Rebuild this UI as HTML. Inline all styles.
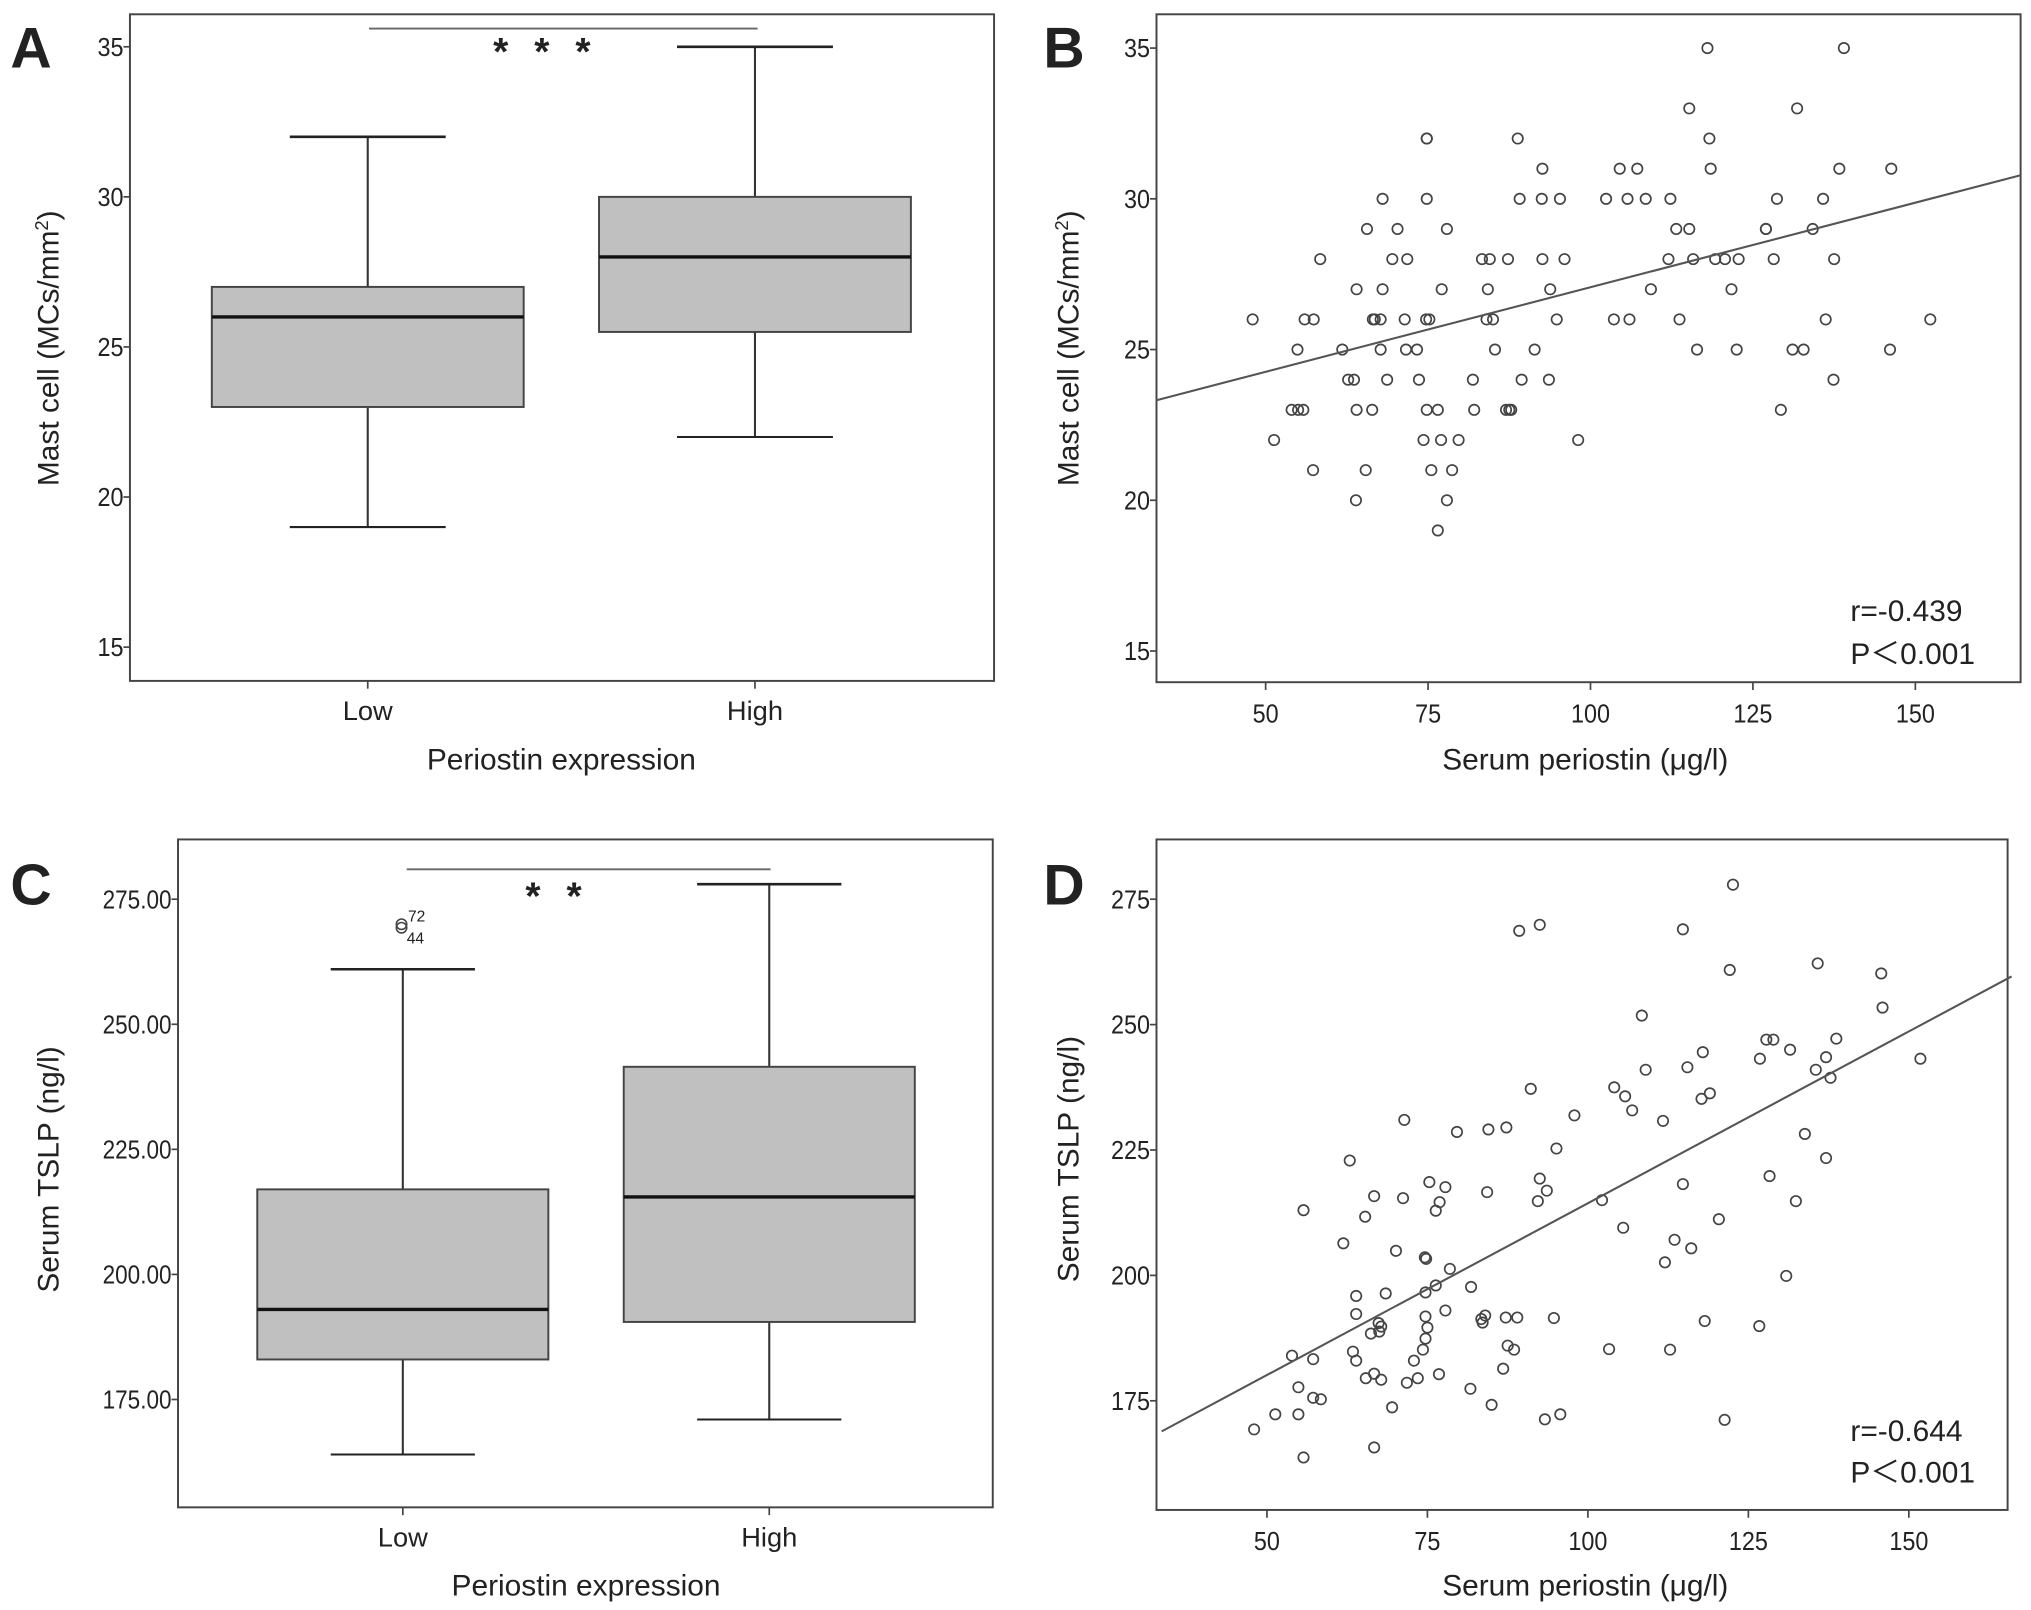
<!DOCTYPE html>
<html><head><meta charset="utf-8">
<style>
html,body{margin:0;padding:0;background:#fff;}
svg{display:block;}
text{font-family:"Liberation Sans",sans-serif;fill:#222;}
</style></head>
<body>
<svg id="fig" width="2031" height="1610" viewBox="0 0 1563 1239" preserveAspectRatio="none" xmlns="http://www.w3.org/2000/svg"></svg>
<script>
// ---- Panel A data (box plot) ----
const catsA = ["Low", "High"];
const boxA_min = [19, 22];
const boxA_q1 = [23, 25.5];
const boxA_med = [26, 28];
const boxA_q3 = [27, 30];
const boxA_max = [32, 35];
const ticksA = [15, 20, 25, 30, 35];

// ---- Panel B data (scatter) ----
const bX = [118,139, 115.2,131.8, 74.8,74.8,88.8,118.3,
 92.6,104.5,107.2,118.5,138.3,146.3,
 68,74.8,89.1,92.5,95.3,102.4,105.7,108.5,112.3,128.7,135.8,
 65.6,70.3,77.9,113.2,115.2,127,127,134.2,
 58.4,69.5,71.8,83.3,84.5,87.3,92.6,96,112,115.8,119.2,120.7,122.8,128.2,137.5,
 64,68,77.1,84.2,93.8,109.3,121.7,
 48,56,57.4,66.5,66.8,67.7,71.4,74.7,75.2,84,85,94.8,103.6,106,113.7,136.2,152.3,
 54.9,61.8,67.7,71.6,73.3,85.3,91.4,116.4,122.5,131.1,132.8,146.1,
 62.7,63.6,68.7,73.6,81.9,89.4,93.6,137.4,
 54,55,55.8,64,66.4,74.8,76.5,82.1,87,87.5,87.8,129.3,
 51.3,74.3,77,79.7,98.1,
 57.3,65.4,75.5,78.7,
 63.9,77.9,
 76.5];
const bY = [35,35, 33,33, 32,32,32,32,
 31,31,31,31,31,31,
 30,30,30,30,30,30,30,30,30,30,30,
 29,29,29,29,29,29,29,29,
 28,28,28,28,28,28,28,28,28,28,28,28,28,28,28,
 27,27,27,27,27,27,27,
 26,26,26,26,26,26,26,26,26,26,26,26,26,26,26,26,26,
 25,25,25,25,25,25,25,25,25,25,25,25,
 24,24,24,24,24,24,24,24,
 23,23,23,23,23,23,23,23,23,23,23,23,
 22,22,22,22,22,
 21,21,21,21,
 20,20,
 19];
const fitB = [[33.2, 23.32], [166.2, 30.78]];
const xTicksB = [50, 75, 100, 125, 150];
const yTicksB = [15, 20, 25, 30, 35];

// ---- Panel C data (box plot) ----
const catsC = ["Low", "High"];
const boxC_min = [164, 171];
const boxC_q1 = [183, 190.5];
const boxC_med = [193, 215.5];
const boxC_q3 = [217, 241.5];
const boxC_max = [261, 278];
const outC = [270, 269.3];
const outLabelsC = ["72", "44"];
const ticksC = [175, 200, 225, 250, 275];

// ---- Panel D data (scatter) ----
const dX = [122.6,89.3,92.5,114.8,122.1,135.8,145.7,145.9,108.4,127.8,128.9,138.7,131.5,117.9,126.8,137.1,151.8,115.5,109.0,135.5,137.8,91.1,104.1,105.8,117.7,119.0,106.9,97.9,71.4,111.7,84.5,87.3,79.6,95.1,133.8,62.9,137.1,128.3,75.3,77.8,92.5,114.8,93.6,84.3,66.7,71.2,55.7,92.2,102.2,132.4,76.9,76.3,65.3,120.4,105.5,113.5,61.9,70.1,116.1,74.6,74.8,78.5,112.0,130.9,81.8,76.3,74.7,63.9,68.5,77.8,63.9,67.4,67.8,67.5,66.2,74.7,75.0,74.7,74.3,83.4,83.6,84.0,87.2,89.0,94.7,118.2,126.7,63.4,63.9,53.9,57.2,72.9,87.5,88.5,103.3,112.8,65.4,66.7,67.8,73.5,71.8,76.8,86.8,81.7,54.9,57.2,58.4,85.0,69.5,51.3,54.9,95.7,93.3,121.3,48.0,66.7,55.7];
const dY = [277.9,268.7,269.9,269.0,260.9,262.2,260.2,253.4,251.8,247.0,247.0,247.2,245.0,244.5,243.2,243.5,243.2,241.5,241.0,241.0,239.4,237.2,237.5,235.7,235.2,236.3,232.9,231.9,231.0,230.8,229.1,229.5,228.6,225.3,228.2,222.9,223.4,219.8,218.6,217.6,219.3,218.2,216.9,216.6,215.8,215.4,213.0,214.8,215.0,214.8,214.6,212.9,211.7,211.2,209.5,207.1,206.4,204.9,205.4,203.6,203.3,201.3,202.6,199.9,197.7,198.0,196.6,195.9,196.4,193.0,192.3,190.5,189.8,188.8,188.4,191.8,189.6,187.4,185.2,191.3,190.6,192.0,191.6,191.6,191.5,190.9,189.9,184.8,183.0,184.0,183.3,183.0,186.0,185.2,185.3,185.2,179.5,180.4,179.2,179.5,178.6,180.3,181.4,177.4,177.7,175.6,175.3,174.2,173.7,172.3,172.3,172.3,171.3,171.2,169.3,165.7,163.7];
const fitD = [[33.6, 168.9], [166.0, 259.6]];
const xTicksD = [50, 75, 100, 125, 150];
const yTicksD = [175, 200, 225, 250, 275];

const NS = "http://www.w3.org/2000/svg";
const svg = document.getElementById('fig');
function mk(tag, attrs, parent, txt) {
  const e = document.createElementNS(NS, tag);
  for (const k in attrs) e.setAttribute(k, attrs[k]);
  if (txt !== undefined) e.textContent = txt;
  (parent || svg).appendChild(e);
  return e;
}
function lin(d0, d1, p0, p1) { return v => p0 + (v - d0) * (p1 - p0) / (d1 - d0); }

function frame(g, x0, y0, x1, y1) {
  const r = mk('rect', {x:x0, y:y0, width:x1-x0, height:y1-y0, fill:'none', stroke:'#444', 'stroke-width':1.5}, g);
  
  
}
function yAxis(g, ticks, ys, x0, fmt) {
  ticks.forEach(t => {
    const l = mk('line', {x1:x0-5, x2:x0, y1:ys(t), y2:ys(t), stroke:'#444', 'stroke-width':1.3}, g);
    
    
    const s = fmt ? t.toFixed(2) : String(t);
    const w = fmt ? 53 : s.length * 10;
    const tx = mk('text', {x:x0-5, y:ys(t)+7, 'text-anchor':'end', 'font-size':20, textLength:w, lengthAdjust:'spacingAndGlyphs'}, g, s);
    
    
  });
}
function xAxisNum(g, ticks, xs, y1) {
  ticks.forEach(t => {
    const l = mk('line', {x1:xs(t), x2:xs(t), y1:y1, y2:y1+6, stroke:'#444', 'stroke-width':1.3}, g);
    
    
    const s = String(t);
    const tx = mk('text', {x:xs(t), y:y1+31, 'text-anchor':'middle', 'font-size':20, textLength:s.length*10, lengthAdjust:'spacingAndGlyphs'}, g, s);
    
    
  });
}
function titles(g, letter, lx, ly, ytitle, ytx, yty, xtitle, xtx, xty) {
  const L = mk('text', {x:lx, y:ly, 'font-size':44, 'font-weight':'bold', fill:'#000'}, g, letter);
  
  
  const yt = mk('text', {x:0, y:0, transform:`translate(${ytx},${yty}) rotate(-90)`, 'text-anchor':'middle', 'font-size':23}, g);
  
  
  if (Array.isArray(ytitle)) {
    mk('tspan', {}, yt, ytitle[0]);
    mk('tspan', {dy:-8, 'font-size':14}, yt, ytitle[1]);
    mk('tspan', {dy:8}, yt, ytitle[2]);
  } else yt.textContent = ytitle;
  const xt = mk('text', {x:xtx, y:xty, 'text-anchor':'middle', 'font-size':23}, g, xtitle);
  
  
}

function boxPanel(name, F, cats, mn, q1, md, q3, mx, ticks, ys, catX, boxW, capW, fmt) {
  const g = mk('g', {});
  
  
  cats.forEach((c, i) => {
    const cx = catX[i];
    const bg = mk('g', {}, g);
    
    
    mk('line', {x1:cx, x2:cx, y1:ys(mx[i]), y2:ys(q3[i]), stroke:'#333', 'stroke-width':1.6}, bg);
    mk('line', {x1:cx, x2:cx, y1:ys(q1[i]), y2:ys(mn[i]), stroke:'#333', 'stroke-width':1.6}, bg);
    mk('line', {x1:cx-capW/2, x2:cx+capW/2, y1:ys(mx[i]), y2:ys(mx[i]), stroke:'#222', 'stroke-width':2}, bg);
    mk('line', {x1:cx-capW/2, x2:cx+capW/2, y1:ys(mn[i]), y2:ys(mn[i]), stroke:'#222', 'stroke-width':1.6}, bg);
    mk('rect', {x:cx-boxW/2, y:ys(q3[i]), width:boxW, height:ys(q1[i])-ys(q3[i]), fill:'#c0c0c0', stroke:'#444', 'stroke-width':1.5}, bg);
    mk('line', {x1:cx-boxW/2, x2:cx+boxW/2, y1:ys(md[i]), y2:ys(md[i]), stroke:'#111', 'stroke-width':2.6}, bg);
    const tk = mk('line', {x1:cx, x2:cx, y1:F[3], y2:F[3]+6, stroke:'#444', 'stroke-width':1.3}, g);
    
    
    const tl = mk('text', {x:cx, y:F[3]+30, 'text-anchor':'middle', 'font-size':21}, g, c);
    
    
  });
  frame(g, F[0], F[1], F[2], F[3]);
  yAxis(g, ticks, ys, F[0], fmt);
  return g;
}

function scatterPanel(name, F, xs, ys, X, Y, fit, xt, yt) {
  const g = mk('g', {});
  
  
  frame(g, F[0], F[1], F[2], F[3]);
  yAxis(g, yt, ys, F[0], false);
  xAxisNum(g, xt, xs, F[3]);
  X.forEach((x, i) => {
    const c = mk('circle', {cx:xs(x), cy:ys(Y[i]), r:4, fill:'none', stroke:'#444', 'stroke-width':1.3}, g);
    
    
  });
  const l = mk('line', {x1:xs(fit[0][0]), y1:ys(fit[0][1]), x2:xs(fit[1][0]), y2:ys(fit[1][1]), stroke:'#555', 'stroke-width':1.6}, g);
  
  
  return g;
}

// Panel A
const FA = [100, 11, 765, 524];
const ysA = lin(35, 15, 36, 498);
const gA = boxPanel('panel-a', FA, catsA, boxA_min, boxA_q1, boxA_med, boxA_q3, boxA_max, ticksA, ysA, [283, 581], 240, 120, false);
titles(gA, 'A', 8, 52, ['Mast cell (MCs/mm', '2', ')'], 45, 268, 'Periostin expression', 432, 592);
const sA = mk('line', {x1:284, x2:583, y1:22, y2:22, stroke:'#666', 'stroke-width':1.5}, gA);


const stA = mk('text', {x:427, y:50, 'text-anchor':'middle', 'font-size':30, 'font-weight':'bold', fill:'#000', 'letter-spacing':'20'}, gA, '***');



// Panel B
const FB = [890, 11, 1555, 525];
const xsB = lin(50, 150, 974, 1474);
const ysB = lin(35, 15, 37, 501);
const gB = scatterPanel('panel-b', FB, xsB, ysB, bX, bY, fitB, xTicksB, yTicksB);
titles(gB, 'B', 803, 52, ['Mast cell (MCs/mm', '2', ')'], 830, 268, 'Serum periostin (μg/l)', 1220, 592);
const rB = mk('text', {x:1424, y:478, 'font-size':23}, gB, 'r=-0.439');


const pB = mk('text', {x:1424, y:511, 'font-size':23}, gB, 'P＜0.001');



// Panel C
const FC = [137, 646, 764, 1160];
const ysC = lin(275, 175, 692, 1077);
const gC = boxPanel('panel-c', FC, catsC, boxC_min, boxC_q1, boxC_med, boxC_q3, boxC_max, ticksC, ysC, [310, 592], 224, 111, true);
titles(gC, 'C', 8, 696, 'Serum TSLP (ng/l)', 45, 900, 'Periostin expression', 451, 1228);
outC.forEach((v, i) => {
  const o = mk('circle', {cx:309, cy:ysC(v), r:4, fill:'none', stroke:'#444', 'stroke-width':1.2}, gC);
  
  
});
const o1 = mk('text', {x:314, y:709, 'font-size':12}, gC, outLabelsC[0]);


const o2 = mk('text', {x:313, y:726, 'font-size':12}, gC, outLabelsC[1]);


const sC = mk('line', {x1:313, x2:593, y1:669, y2:669, stroke:'#666', 'stroke-width':1.5}, gC);


const stC = mk('text', {x:436, y:700, 'text-anchor':'middle', 'font-size':30, 'font-weight':'bold', fill:'#000', 'letter-spacing':'20'}, gC, '**');



// Panel D
const FD = [890, 646, 1545, 1162];
const xsD = lin(50, 150, 975, 1469);
const ysD = lin(275, 175, 692, 1078);
const gD = scatterPanel('panel-d', FD, xsD, ysD, dX, dY, fitD, xTicksD, yTicksD);
titles(gD, 'D', 803, 696, 'Serum TSLP (ng/l)', 830, 892, 'Serum periostin (μg/l)', 1220, 1228);
const rD = mk('text', {x:1424, y:1109, 'font-size':23}, gD, 'r=-0.644');


const pD = mk('text', {x:1424, y:1141, 'font-size':23}, gD, 'P＜0.001');


</script>
</body></html>
